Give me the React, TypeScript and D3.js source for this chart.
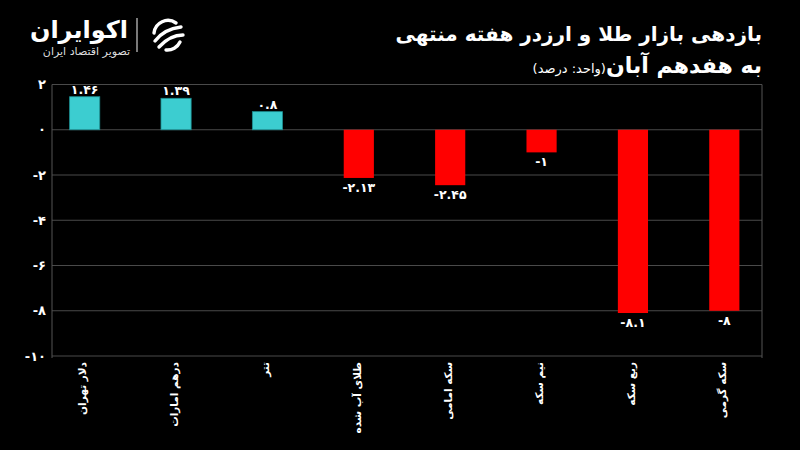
import React from 'react'
import * as d3 from 'd3'

const categories = ['دلار تهران', 'درهم امارات', 'تتر', 'طلای آب شده', 'سکه امامی', 'نیم سکه', 'ربع سکه', 'سکه گرمی']
const returns = [1.46, 1.39, 0.8, -2.13, -2.45, -1, -8.1, -8]
const yTicks = [2, 0, -2, -4, -6, -8, -10]

const titleLine1 = 'بازدهی بازار طلا و ارزدر هفته منتهی'
const titleLine2 = 'به هفدهم آبان'
const unitText = '(واحد: درصد)'

const fa = (s: string) => s.replace(/\d/g, (d) => '۰۱۲۳۴۵۶۷۸۹'[+d])

const width = 800
const height = 450
const font = "'DejaVu Sans', sans-serif"

export default function App() {
    const x = d3.scaleBand<string>()
        .domain(categories)
        .range([39, 770])
        .paddingInner(0.67)
        .paddingOuter(0.335)
    const y = d3.scaleLinear().domain([-10, 2]).range([356, 84.5])

    const plotLeft = 52
    const plotRight = 762

    return (
        <svg width={width} height={height} style={{ position: 'absolute', left: 0, top: 0, background: '#000' }}>
            <rect width={width} height={height} fill="#000" />

            {/* logo */}
            <g>
                <text x={128} y={38} textAnchor="end" fill="#fff" fontFamily={font} fontWeight="bold" fontSize={24}>اکوایران</text>
                <text x={130} y={55} textAnchor="end" fill="#ddd" fontFamily={font} fontSize={11}>تصویر اقتصاد ایران</text>
                <line x1={137} x2={137} y1={18} y2={52} stroke="#ccc" strokeWidth={1.2} />
                <g transform="translate(168,35)" fill="none" stroke="#fff" strokeWidth={3.4} strokeLinecap="round">
                    <path d="M -14 -2 A 14 14 0 0 1 8 -12" />
                    <path d="M -13 6 Q -4 -6 13 -8" />
                    <path d="M -9 12 Q 2 0 15 0" />
                    <path d="M -2 15 A 14 14 0 0 0 12 7" />
                </g>
            </g>

            {/* title */}
            <text x={762} y={41} textAnchor="end" fill="#fff" fontFamily={font} fontWeight="bold" fontSize={20}>{titleLine1}</text>
            <text x={762} y={73} textAnchor="end" fill="#fff" fontFamily={font} fontSize={22}>
                <tspan fontWeight="bold">{titleLine2}</tspan>
                <tspan fontSize={13}>{unitText}</tspan>
            </text>

            {/* grid */}
            {yTicks.map((t) => (
                <g key={t}>
                    <line x1={plotLeft} x2={plotRight} y1={y(t)} y2={y(t)} stroke="#4a4a4a" strokeWidth={1} />
                    <text x={46} y={y(t)} dy="0.35em" textAnchor="end" fill="#fff" fontFamily={font} fontWeight="bold" fontSize={13}>{fa(String(t))}</text>
                </g>
            ))}
            <line x1={plotLeft} x2={plotLeft} y1={y(2)} y2={y(-10) + 2} stroke="#555" />
            <line x1={plotRight} x2={plotRight} y1={y(2)} y2={y(-10) + 2} stroke="#555" />

            {/* bars */}
            {categories.map((c, i) => {
                const v = returns[i]
                const bx = x(c) as number
                const y0 = y(Math.max(0, v))
                const h = Math.abs(y(v) - y(0))
                const pos = v >= 0
                return (
                    <g key={c}>
                        <rect x={bx} y={y0} width={x.bandwidth()} height={h}
                            fill={pos ? '#3ccdd0' : '#ff0000'} stroke={pos ? '#1d8f92' : 'none'} strokeWidth={0.8} />
                        <text x={bx + x.bandwidth() / 2} y={pos ? y(v) - 3 : y(v) + 14}
                            textAnchor="middle" fill="#fff" fontFamily={font} fontWeight="bold" fontSize={12.5}>{fa(String(v))}</text>
                        <text transform={`translate(${bx + x.bandwidth() / 2 - 2},${y(-10) + 6}) rotate(-90)`}
                            textAnchor="end" dy="0.35em" fill="#fff" fontFamily={font} fontWeight="bold" fontSize={10.5}>{c}</text>
                    </g>
                )
            })}
        </svg>
    )
}
